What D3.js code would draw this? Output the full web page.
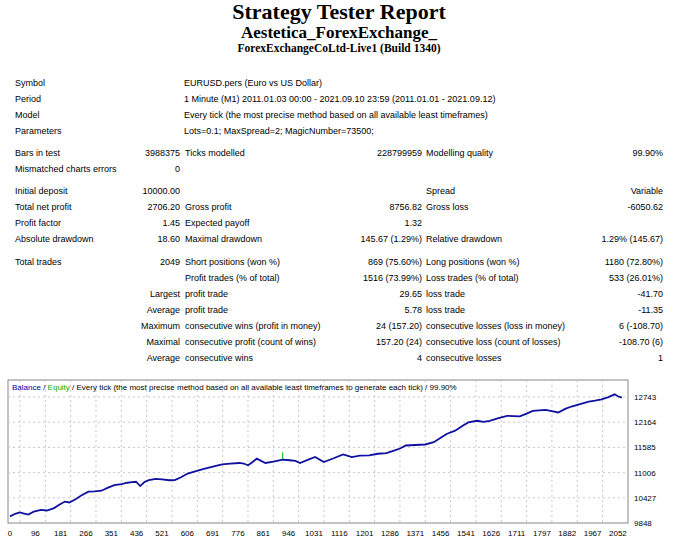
<!DOCTYPE html>
<html>
<head>
<meta charset="utf-8">
<script src="https://cdn.jsdelivr.net/npm/d3@7"></script>
<style>
  body { margin: 0; background: #fff; }
  text { font-family: "Liberation Sans", Arial, sans-serif; }
</style>
</head>
<body>
<script>
// report rows: [label, value, label2, value2, label3, value3]
var headerRows = [
  ["Symbol", "EURUSD.pers (Euro vs US Dollar)"],
  ["Period", "1 Minute (M1) 2011.01.03 00:00 - 2021.09.10 23:59 (2011.01.01 - 2021.09.12)"],
  ["Model", "Every tick (the most precise method based on all available least timeframes)"],
  ["Parameters", "Lots=0.1; MaxSpread=2; MagicNumber=73500;"]
];
var statRows = [
  ["Bars in test", "3988375", "Ticks modelled", "228799959", "Modelling quality", "99.90%"],
  ["Mismatched charts errors", "0", "", "", "", ""],
  ["Initial deposit", "10000.00", "", "", "Spread", "Variable"],
  ["Total net profit", "2706.20", "Gross profit", "8756.82", "Gross loss", "-6050.62"],
  ["Profit factor", "1.45", "Expected payoff", "1.32", "", ""],
  ["Absolute drawdown", "18.60", "Maximal drawdown", "145.67 (1.29%)", "Relative drawdown", "1.29% (145.67)"],
  ["Total trades", "2049", "Short positions (won %)", "869 (75.60%)", "Long positions (won %)", "1180 (72.80%)"],
  ["", "", "Profit trades (% of total)", "1516 (73.99%)", "Loss trades (% of total)", "533 (26.01%)"],
  ["", "Largest", "profit trade", "29.65", "loss trade", "-41.70"],
  ["", "Average", "profit trade", "5.78", "loss trade", "-11.35"],
  ["", "Maximum", "consecutive wins (profit in money)", "24 (157.20)", "consecutive losses (loss in money)", "6 (-108.70)"],
  ["", "Maximal", "consecutive profit (count of wins)", "157.20 (24)", "consecutive loss (count of losses)", "-108.70 (6)"],
  ["", "Average", "consecutive wins", "4", "consecutive losses", "1"]
];
var statY = [153, 169, 191, 207, 223, 239, 262, 278, 294, 310, 326, 342, 358];

// chart data
var xTicks = [0, 96, 181, 266, 351, 436, 521, 606, 691, 776, 861, 946, 1031, 1116, 1201, 1286, 1371, 1456, 1541, 1626, 1711, 1797, 1882, 1967, 2052];
var yTicks = [9848, 10427, 11006, 11585, 12164, 12743];
var trades = [0, 20, 36, 50, 69, 90, 115, 135, 159, 175, 195, 210, 231, 250, 274, 295, 318, 340, 361, 385, 405, 420, 434, 448, 462, 477, 500, 521, 545, 564, 585, 607, 635, 665, 695, 723, 750, 781, 795, 810, 825, 839, 868, 895, 926, 950, 969, 984, 1010, 1035, 1064, 1095, 1129, 1158, 1185, 1216, 1245, 1274, 1302, 1320, 1339, 1370, 1404, 1433, 1455, 1476, 1505, 1530, 1549, 1578, 1600, 1621, 1650, 1679, 1722, 1745, 1766, 1809, 1830, 1852, 1875, 1896, 1925, 1954, 1975, 1997, 2020, 2041, 2052, 2065];
var balance = [10000, 10060, 10090, 10070, 10040, 10110, 10150, 10135, 10190, 10260, 10340, 10320, 10394, 10480, 10568, 10575, 10590, 10660, 10720, 10740, 10773, 10785, 10796, 10697, 10790, 10833, 10860, 10850, 10830, 10833, 10900, 10985, 11040, 11098, 11150, 11197, 11210, 11227, 11215, 11174, 11250, 11326, 11227, 11260, 11303, 11290, 11273, 11227, 11300, 11364, 11250, 11330, 11424, 11364, 11395, 11401, 11439, 11455, 11515, 11560, 11629, 11640, 11652, 11705, 11800, 11894, 11970, 12080, 12160, 12197, 12170, 12197, 12260, 12311, 12296, 12360, 12425, 12448, 12420, 12387, 12470, 12524, 12580, 12637, 12660, 12690, 12740, 12804, 12760, 12728];
var equitySpikeTrade = [926, 926];
var equitySpike = [11303, 11470];

var svg = d3.select("body").append("svg").attr("width", 680).attr("height", 547);

// titles
var serif = "'Liberation Serif', 'Times New Roman', serif";
svg.append("text").attr("x", 339).attr("y", 19).attr("text-anchor", "middle")
  .style("font-family", serif).style("font-weight", "bold").style("font-size", "22px")
  .text("Strategy Tester Report");
svg.append("text").attr("x", 339).attr("y", 38).attr("text-anchor", "middle")
  .style("font-family", serif).style("font-weight", "bold").style("font-size", "17px")
  .text("Aestetica_ForexExchange_");
svg.append("text").attr("x", 339).attr("y", 52).attr("text-anchor", "middle")
  .style("font-family", serif).style("font-weight", "bold").style("font-size", "11.5px")
  .text("ForexExchangeCoLtd-Live1 (Build 1340)");

// table
var fs = "9px";
var headerY = [83, 99, 115, 131];
headerRows.forEach((r, i) => {
  svg.append("text").attr("x", 15).attr("y", headerY[i] + 3).style("font-size", fs).text(r[0]);
  svg.append("text").attr("x", 184).attr("y", headerY[i] + 3).style("font-size", fs).text(r[1]);
});
var cols = [
  { x: 15, anchor: "start" }, { x: 180, anchor: "end" },
  { x: 185, anchor: "start" }, { x: 422, anchor: "end" },
  { x: 426, anchor: "start" }, { x: 663, anchor: "end" }
];
statRows.forEach((r, i) => {
  r.forEach((t, j) => {
    if (!t) return;
    svg.append("text").attr("x", cols[j].x).attr("y", statY[i] + 3)
      .attr("text-anchor", cols[j].anchor).style("font-size", fs).text(t);
  });
});

// chart
var plotL = 8, plotR = 628, plotT = 380, plotB = 523;
var x = d3.scaleLinear().domain(xTicks).range(xTicks.map((d, i) => 10 + i * 25.33));
var y = d3.scaleLinear().domain([9848, 12743]).range([523, 397]);

var g = svg.append("g");
g.append("rect").attr("x", plotL).attr("y", plotT).attr("width", plotR - plotL).attr("height", plotB - plotT)
  .attr("fill", "#fff").attr("stroke", "#888").attr("stroke-width", 1);

g.selectAll(".vg").data(xTicks.slice(0, -1)).enter().append("line")
  .attr("x1", d => x(d) + 10).attr("x2", d => x(d) + 10)
  .attr("y1", plotT).attr("y2", plotB)
  .attr("stroke", "#c8c8c8").attr("stroke-dasharray", "2,3");
g.selectAll(".hg").data(yTicks.slice(1)).enter().append("line")
  .attr("x1", plotL).attr("x2", plotR)
  .attr("y1", d => y(d)).attr("y2", d => y(d))
  .attr("stroke", "#c8c8c8").attr("stroke-dasharray", "2,3");

g.selectAll(".xl").data(xTicks).enter().append("text")
  .attr("x", d => x(d)).attr("y", 536).attr("text-anchor", "middle")
  .style("font-size", "8px").text(d => d);
g.selectAll(".yl").data(yTicks).enter().append("text")
  .attr("x", 634).attr("y", d => y(d) + 3)
  .style("font-size", "8px").text(d => d);

var line = d3.line().x(d => x(d[0])).y(d => y(d[1]));
g.append("path").datum(d3.zip(equitySpikeTrade, equitySpike)).attr("d", line)
  .attr("fill", "none").attr("stroke", "#00b000").attr("stroke-width", 1);
g.append("path").datum(d3.zip(trades, balance)).attr("d", line)
  .attr("fill", "none").attr("stroke", "#1010a0").attr("stroke-width", 1.8);

var leg = g.append("text").attr("x", 12).attr("y", 390).style("font-size", "8px");
leg.append("tspan").attr("fill", "#0000b0").text("Balance");
leg.append("tspan").text(" / ");
leg.append("tspan").attr("fill", "#00b000").text("Equity");
leg.append("tspan").text(" / Every tick (the most precise method based on all available least timeframes to generate each tick) / 99.90%");
</script>
</body>
</html>
